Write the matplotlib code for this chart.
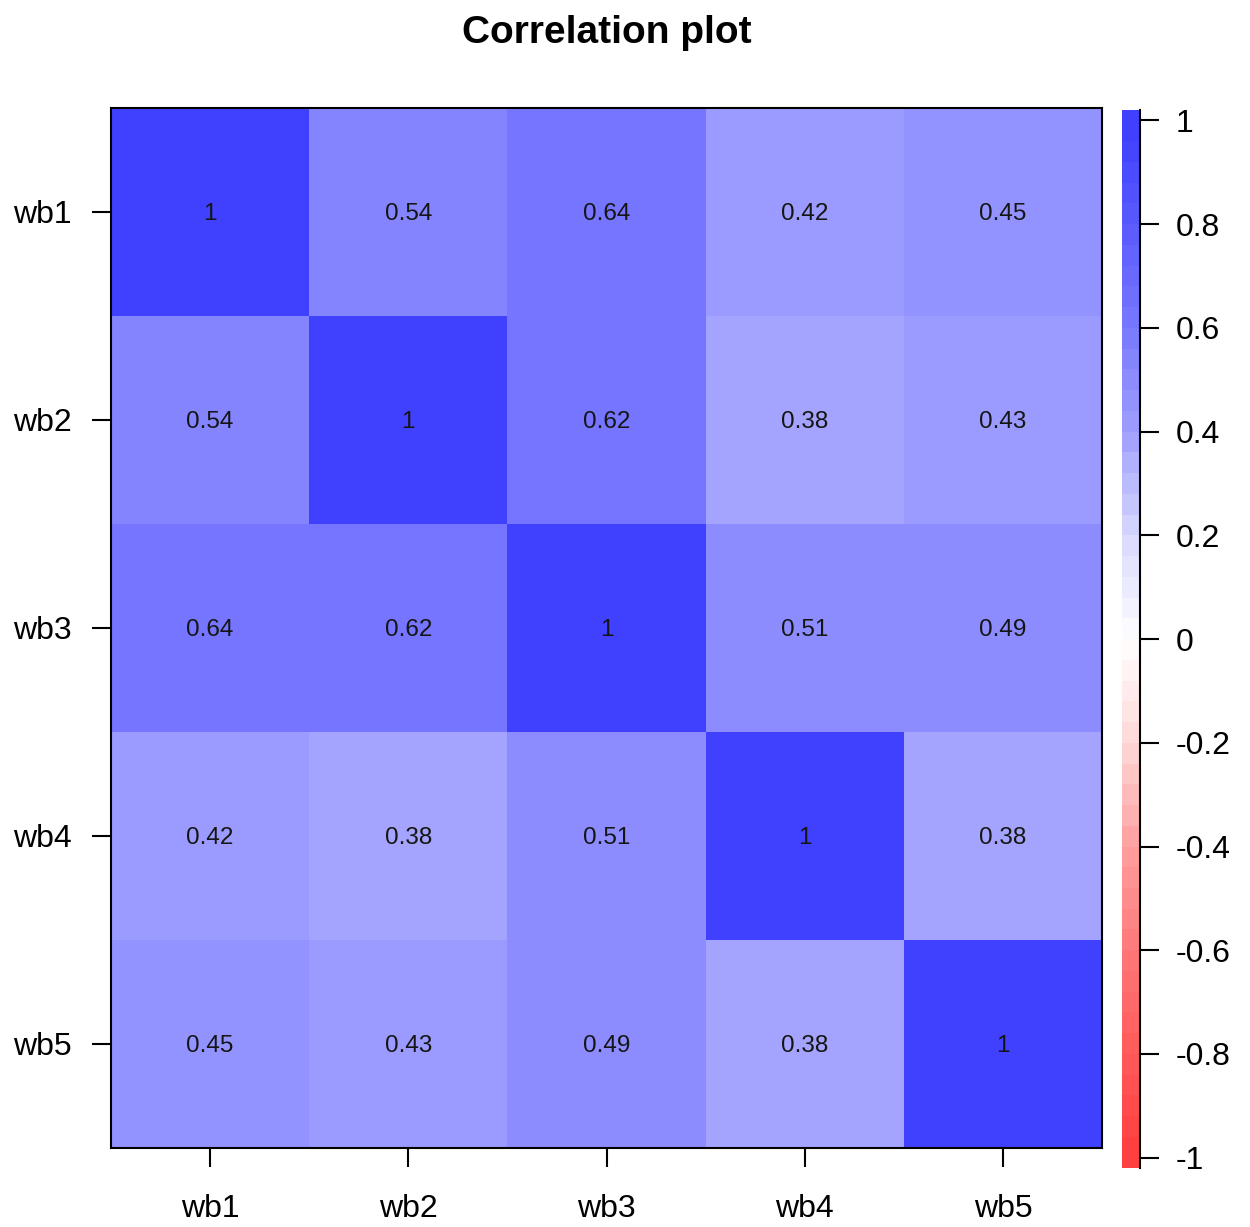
import numpy as np
import matplotlib.pyplot as plt
from matplotlib.colors import LinearSegmentedColormap, BoundaryNorm

plt.rcParams['font.family'] = ['Liberation Sans', 'DejaVu Sans']

labels = ['wb1', 'wb2', 'wb3', 'wb4', 'wb5']
corr = np.array([
    [1.00, 0.54, 0.64, 0.42, 0.45],
    [0.54, 1.00, 0.62, 0.38, 0.43],
    [0.64, 0.62, 1.00, 0.51, 0.49],
    [0.42, 0.38, 0.51, 1.00, 0.38],
    [0.45, 0.43, 0.49, 0.38, 1.00],
])
cbar_ticks = [-1, -0.8, -0.6, -0.4, -0.2, 0, 0.2, 0.4, 0.6, 0.8, 1]

# red - white - blue ramp (washed out ends), 50 steps
ncol = 50
side = [(0.0, 1.0), (0.2, 0.85), (0.4, 0.63), (0.6, 0.48), (0.8, 0.36), (1.0, 0.25)]
anchors = []
for v, c in side[::-1]:
    anchors.append(((1 - v) / 2, (1, c, c)))
for v, c in side[1:]:
    anchors.append(((1 + v) / 2, (c, c, 1)))
cmap = LinearSegmentedColormap.from_list('rwb', anchors, N=ncol)
bounds = np.linspace(-1, 1, ncol + 1)
norm = BoundaryNorm(bounds, ncol)

fig = plt.figure(figsize=(12.5, 12.27), dpi=100)
ax = fig.add_axes([0.0888, 0.0644, 0.7928, 0.8476])

n = len(labels)
ax.pcolormesh(np.arange(n + 1), np.arange(n + 1), corr, cmap=cmap, norm=norm)
ax.set_xlim(0, n)
ax.set_ylim(n, 0)
for i in range(n):
    for j in range(n):
        ax.text(j + 0.5, i + 0.51, f'{corr[i, j]:g}', ha='center', va='center',
                fontsize=17.5, color='#151515')

ax.set_xticks(np.arange(n) + 0.5)
ax.set_xticklabels(labels)
ax.set_yticks(np.arange(n) + 0.5)
ax.set_yticklabels(labels)
ax.tick_params(axis='x', length=14, width=1.5, pad=19, labelsize=23)
ax.tick_params(axis='y', length=14, width=1.5, pad=14, labelsize=23)
for s in ax.spines.values():
    s.set_linewidth(1.5)
ax.set_title('Correlation plot', fontsize=28, fontweight='bold', pad=47)

# colour key
cax = fig.add_axes([0.8976, 0.048, 0.0144, 0.8624])
edges = bounds.copy()
edges[0], edges[-1] = -1.02, 1.02
mids = (bounds[:-1] + bounds[1:]) / 2
cax.pcolormesh([0, 1], edges, mids.reshape(-1, 1), cmap=cmap, norm=norm)
cax.set_ylim(-1.02, 1.02)
cax.set_xlim(0, 1)
cax.set_xticks([])
cax.yaxis.tick_right()
cax.set_yticks(cbar_ticks)
cax.set_yticklabels([f'{t:g}' for t in cbar_ticks])
cax.tick_params(axis='y', length=14, width=1.5, pad=12, labelsize=23)
for k in ['top', 'bottom', 'left']:
    cax.spines[k].set_visible(False)
cax.spines['right'].set_linewidth(1.5)

fig.savefig('out.png', dpi=100)
